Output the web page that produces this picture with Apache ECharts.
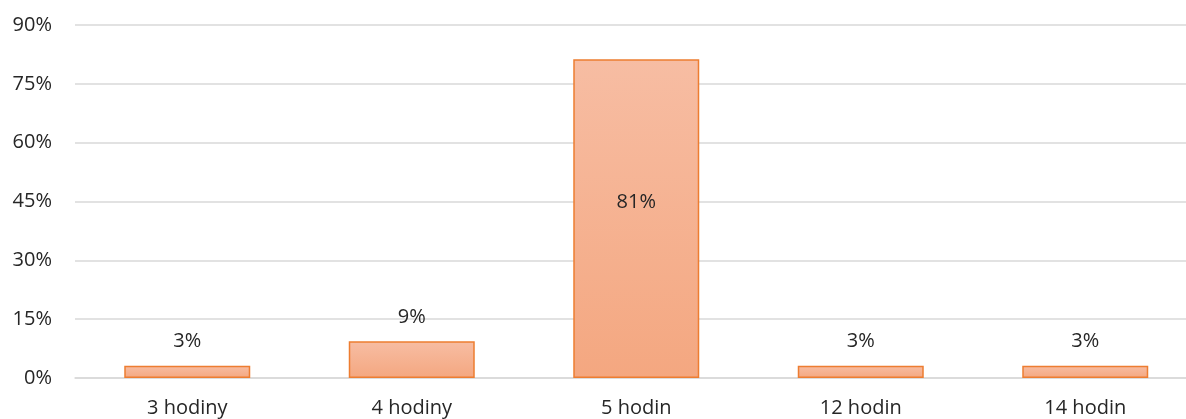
<!DOCTYPE html>
<html>
<head>
<meta charset="utf-8">
<script src="https://cdn.jsdelivr.net/npm/echarts@6/dist/echarts.min.js"></script>
<style>
html, body { margin: 0; padding: 0; background: #fff; }
#main { width: 1186px; height: 419px; }
</style>
</head>
<body>
<div id="main"></div>
<script>
var categories = ['3 hodiny', '4 hodiny', '5 hodin', '12 hodin', '14 hodin'];
var shares = [3.125, 9.375, 81.25, 3.125, 3.125];
var yTicks = [0, 15, 30, 45, 60, 75, 90];

var chartDom = document.getElementById('main');
var myChart = echarts.init(chartDom);

var textColor = '#262626';
var fontFamily = '"Open Sans", "Noto Sans", sans-serif';

var seriesData = [];
for (var i = 0; i < shares.length; i++) {
	var item = { value: shares[i] };
	// the tall bar carries its label inside
	if (shares[i] > 50) {
		item.label = { position: 'inside', offset: [0, -16] };
	}
	seriesData.push(item);
}

var option = {
	animation: false,
	grid: {
		left: 75,
		top: 25,
		width: 1122.5,
		height: 353,
		outerBoundsMode: 'none',
		containLabel: false
	},
	xAxis: {
		type: 'category',
		data: categories,
		axisLine: { lineStyle: { color: '#D9D9D9', width: 1.5 } },
		axisTick: { show: false },
		axisLabel: {
			color: textColor,
			fontSize: 20,
			fontFamily: fontFamily,
			margin: 20
		}
	},
	yAxis: {
		type: 'value',
		min: yTicks[0],
		max: yTicks[yTicks.length - 1],
		interval: 15,
		axisLine: { show: false },
		axisTick: { show: false },
		splitLine: { lineStyle: { color: '#D9D9D9', width: 1.5 } },
		axisLabel: {
			color: textColor,
			fontSize: 20,
			fontFamily: fontFamily,
			margin: 23,
			formatter: '{value}%'
		}
	},
	series: [{
		type: 'bar',
		data: seriesData,
		barWidth: 126,
		itemStyle: {
			color: new echarts.graphic.LinearGradient(0, 0, 0, 1, [
				{ offset: 0, color: '#F7BDA3' },
				{ offset: 1, color: '#F4A780' }
			]),
			borderColor: '#ED7D31',
			borderWidth: 1.5
		},
		label: {
			show: true,
			position: 'top',
			distance: 14,
			color: textColor,
			fontSize: 20,
			fontFamily: fontFamily,
			formatter: function(p) {
				return Math.round(p.value) + '%';
			}
		}
	}]
};

option && myChart.setOption(option);
</script>
</body>
</html>
